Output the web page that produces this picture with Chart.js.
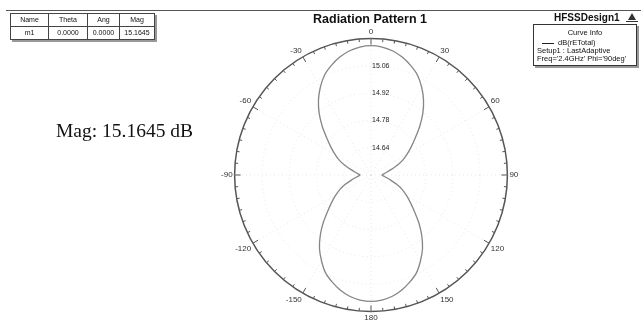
<!DOCTYPE html>
<html><head><meta charset="utf-8">
<script src="https://cdn.jsdelivr.net/npm/chart.js@4/dist/chart.umd.min.js"></script>
<style>
html,body{margin:0;padding:0;background:#fff;}
body{width:641px;height:320px;overflow:hidden;position:relative;font-family:"Liberation Sans",Arial,sans-serif;color:#111;}
#c{position:absolute;left:0;top:0;}
.topline{position:absolute;left:6px;right:0;top:10px;height:1px;background:#555;}
.title{position:absolute;left:270px;width:200px;top:11px;text-align:center;font-weight:bold;font-size:12.5px;line-height:16px;color:#111;}
.design{position:absolute;left:554px;top:12px;font-weight:bold;font-size:10px;line-height:12px;color:#111;}
.logo{position:absolute;left:628px;top:13px;width:0;height:0;border-left:4px solid transparent;border-right:4px solid transparent;border-bottom:7px solid #333;}
.logo2{position:absolute;left:626px;top:21px;width:12px;height:1px;background:#333;}
.mtable{position:absolute;left:10px;top:13px;border-collapse:collapse;font-size:7px;box-shadow:2px 2px 0 #999;background:#fff;width:145px;}
.mtable td{border:1px solid #444;height:12px;padding:0;text-align:center;line-height:12px;white-space:nowrap;}
.curveinfo{position:absolute;left:533px;top:24px;width:102px;height:40px;border:1px solid #333;box-shadow:2px 2px 0 #999;background:#fff;font-size:7.5px;line-height:8px;white-space:nowrap;color:#111;}
.mag{position:absolute;left:56px;top:120.7px;font-family:"Liberation Serif","Times New Roman",serif;font-size:19.5px;line-height:19.5px;white-space:nowrap;color:#111;}
</style></head>
<body>
<canvas id="c" width="641" height="330"></canvas>
<div class="topline"></div>
<table class="mtable">
<tr><td style="width:37px">Name</td><td style="width:38px">Theta</td><td style="width:31px">Ang</td><td>Mag</td></tr>
<tr><td>m1</td><td>0.0000</td><td>0.0000</td><td>15.1645</td></tr>
</table>
<div class="title">Radiation Pattern 1</div>
<div class="design">HFSSDesign1</div>
<div class="logo"></div><div class="logo2"></div>
<div class="curveinfo">
 <div style="text-align:center;margin-top:4px">Curve Info</div>
 <div style="margin-left:8px;margin-top:2px"><span style="display:inline-block;width:12px;border-top:1px solid #222;vertical-align:middle;margin-right:4px"></span>dB(rETotal)</div>
 <div style="margin-left:3px">Setup1 : LastAdaptive</div>
 <div style="margin-left:3px">Freq='2.4GHz' Phi='90deg'</div>
</div>
<div class="mag">Mag: 15.1645 dB</div>
<script>
// Theta (deg), clockwise from top, 5 degree steps
const thetaDeg = [0,5,10,15,20,25,30,35,40,45,50,55,60,65,70,75,80,85,90,
  95,100,105,110,115,120,125,130,135,140,145,150,155,160,165,170,175,180,
  -175,-170,-165,-160,-155,-150,-145,-140,-135,-130,-125,-120,-115,-110,-105,-100,-95,
  -90,-85,-80,-75,-70,-65,-60,-55,-50,-45,-40,-35,-30,-25,-20,-15,-10,-5];
// dB(rETotal)
const gainDb = [15.164,15.159,15.146,15.125,15.097,15.065,15.020,14.970,14.914,14.854,14.797,14.752,14.714,14.680,14.642,14.606,14.582,14.566,14.556,
  14.566,14.582,14.606,14.640,14.677,14.710,14.747,14.791,14.847,14.905,14.961,15.008,15.053,15.084,15.111,15.132,15.144,15.149,
  15.144,15.132,15.111,15.084,15.053,15.008,14.961,14.905,14.847,14.791,14.747,14.710,14.677,14.640,14.606,14.582,14.566,
  14.556,14.566,14.582,14.606,14.642,14.680,14.714,14.752,14.797,14.854,14.914,14.970,15.020,15.065,15.097,15.125,15.146,15.159];
const rTicks = [14.50,14.64,14.78,14.92,15.06,15.20];
const rTickLabels = ['','14.64','14.78','14.92','15.06',''];
const angleTickStep = 30;

const lastRing = rTicks.length - 1;

const polarDecor = {
  id: 'polarDecor',
  afterDatasetsDraw(chart) {
    const s = chart.scales.r;
    const ctx = chart.ctx;
    const R = s.getDistanceFromCenterForValue(rTicks[lastRing]);
    ctx.save();
    ctx.strokeStyle = '#555';
    ctx.lineWidth = 1;
    for (let i = 0; i < thetaDeg.length; i++) {
      const major = thetaDeg[i] % angleTickStep === 0;
      const len = major ? 6 : 3;
      const a = s.getPointPosition(i, R);
      const b = s.getPointPosition(i, R - len);
      ctx.beginPath(); ctx.moveTo(a.x, a.y); ctx.lineTo(b.x, b.y); ctx.stroke();
    }
    ctx.fillStyle = '#222';
    ctx.font = '7px "Liberation Sans", Arial, sans-serif';
    ctx.textAlign = 'left';
    ctx.textBaseline = 'middle';
    s.ticks.forEach((t, idx) => {
      const lbl = rTickLabels[idx];
      if (!lbl) return;
      const d = s.getDistanceFromCenterForValue(t.value);
      ctx.fillText(lbl, s.xCenter + 1, s.yCenter - d);
    });
    ctx.restore();
  }
};

new Chart(document.getElementById('c'), {
  type: 'radar',
  data: {
    labels: thetaDeg,
    datasets: [{
      label: 'dB(rETotal)',
      data: gainDb,
      borderColor: '#858585',
      borderWidth: 1.3,
      pointRadius: 0,
      fill: false,
      tension: 0.2
    }]
  },
  options: {
    responsive: false,
    animation: false,
    layout: { padding: { left: 171, right: 70, top: 28, bottom: 6 } },
    plugins: { legend: { display: false }, tooltip: { enabled: false } },
    scales: {
      r: {
        min: rTicks[0],
        max: rTicks[lastRing],
        afterBuildTicks: (s) => { s.ticks = rTicks.map(v => ({ value: v })); },
        ticks: { display: false },
        grid: {
          circular: true,
          color: (c) => c.index === lastRing ? '#555' : '#e2e2e2',
          lineWidth: (c) => c.index === lastRing ? 1.5 : 0.8
        },
        border: {
          dash: (c) => c.index === lastRing ? [] : [1, 3]
        },
        angleLines: {
          color: (c) => thetaDeg[c.index] % angleTickStep === 0 ? '#e2e2e2' : 'rgba(0,0,0,0)',
          lineWidth: (c) => thetaDeg[c.index] % angleTickStep === 0 ? 0.8 : 0,
          borderDash: [1, 3]
        },
        pointLabels: {
          font: { size: 8, family: '"Liberation Sans", Arial, sans-serif' },
          color: '#333',
          padding: 2,
          callback: (v) => (v % angleTickStep === 0 ? String(v) : '')
        }
      }
    }
  },
  plugins: [polarDecor]
});
</script>
</body></html>
